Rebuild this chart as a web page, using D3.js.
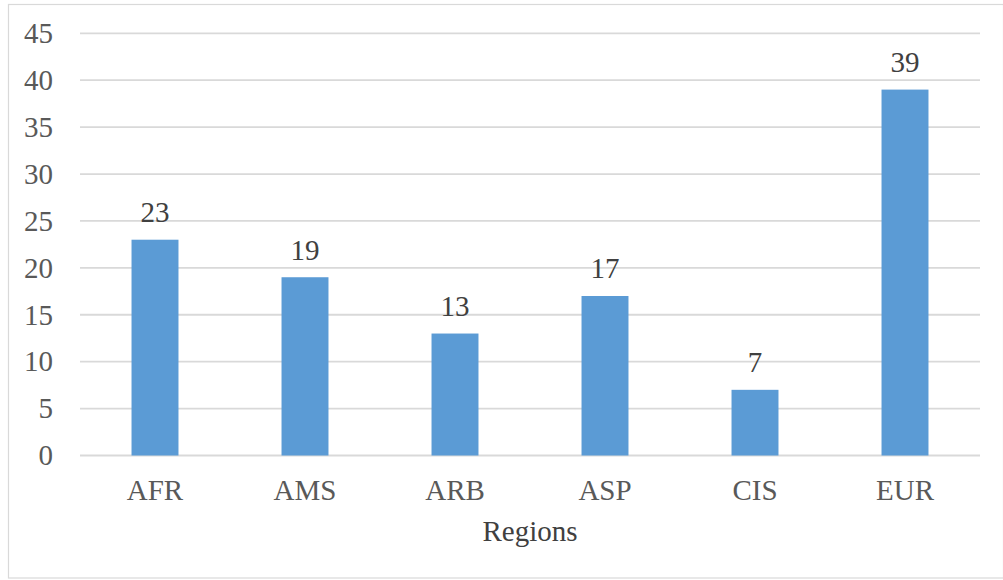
<!DOCTYPE html>
<html>
<head>
<meta charset="utf-8">
<script src="https://cdn.jsdelivr.net/npm/d3@7"></script>
<style>
  body { margin: 0; background: #fff; }
</style>
</head>
<body>
<div id="chart"></div>
<script>
const regions = ["AFR", "AMS", "ARB", "ASP", "CIS", "EUR"];
const counts = [23, 19, 13, 17, 7, 39];
const yTicks = [0, 5, 10, 15, 20, 25, 30, 35, 40, 45];

const W = 1003, H = 580;
const margin = { top: 33.3, right: 23, bottom: 124.5, left: 80 };
const width = W - margin.left - margin.right;
const height = H - margin.top - margin.bottom;
const serif = '"Liberation Serif"';
const fs = 29;

const svg = d3.select("#chart").append("svg")
  .attr("width", W)
  .attr("height", H);

// outer frame
svg.append("rect")
  .attr("x", 8.5).attr("y", 4.5)
  .attr("width", W - 8).attr("height", 573.5)
  .attr("fill", "none")
  .attr("stroke", "#d9d9d9")
  .attr("stroke-width", 1.2);

const g = svg.append("g")
  .attr("transform", `translate(${margin.left},${margin.top})`);

const x = d3.scaleBand().domain(regions).range([0, width]).paddingInner(0.687).paddingOuter(0.3435);
const y = d3.scaleLinear().domain([0, 45]).range([height, 0]);

// gridlines
g.selectAll(".grid")
  .data(yTicks)
  .enter()
  .append("line")
  .attr("class", "grid")
  .attr("x1", 0).attr("x2", width)
  .attr("y1", d => y(d)).attr("y2", d => y(d))
  .attr("stroke", "#d9d9d9")
  .attr("stroke-width", 1.8);

// y axis labels
const yAxis = d3.axisLeft(y).tickValues(yTicks).tickSize(0).tickPadding(27);
g.append("g")
  .call(yAxis)
  .call(a => a.select(".domain").remove())
  .call(a => a.selectAll("text")
    .attr("font-size", fs)
    .attr("fill", "#595959")
    .style("font-family", serif));

// bars
g.selectAll(".bar")
  .data(counts)
  .enter()
  .append("rect")
  .attr("class", "bar")
  .attr("x", (d, i) => x(regions[i]))
  .attr("y", d => y(d))
  .attr("width", x.bandwidth())
  .attr("height", d => height - y(d))
  .attr("fill", "#5b9bd5");

// data labels
g.selectAll(".label")
  .data(counts)
  .enter()
  .append("text")
  .attr("class", "label")
  .attr("x", (d, i) => x(regions[i]) + x.bandwidth() / 2)
  .attr("y", d => y(d) - 17.5)
  .attr("text-anchor", "middle")
  .attr("font-size", fs)
  .attr("fill", "#404040")
  .style("font-family", serif)
  .text(d => d);

// x axis labels
const xAxis = d3.axisBottom(x).tickSize(0).tickPadding(0);
g.append("g")
  .attr("transform", `translate(0,${height})`)
  .call(xAxis)
  .call(a => a.select(".domain").remove())
  .call(a => a.selectAll("text")
    .attr("dy", null)
    .attr("y", 44.5)
    .attr("font-size", fs)
    .attr("fill", "#595959")
    .style("font-family", serif));

// axis title
g.append("text")
  .attr("x", width / 2)
  .attr("y", height + 86)
  .attr("text-anchor", "middle")
  .attr("font-size", fs)
  .attr("fill", "#404040")
  .style("font-family", serif)
  .text("Regions");
</script>
</body>
</html>
